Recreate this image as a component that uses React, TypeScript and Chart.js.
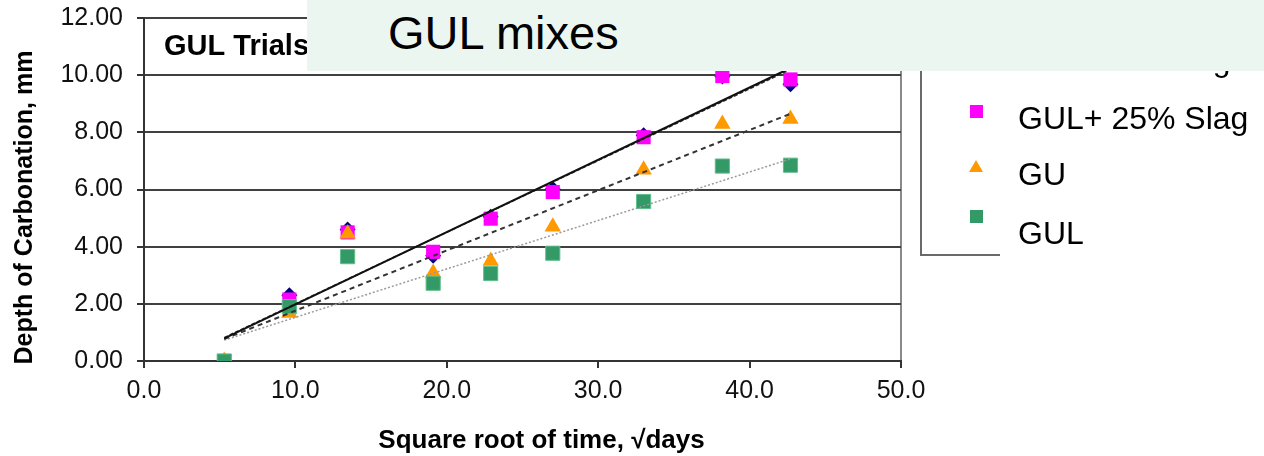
import React, { useEffect, useRef } from "react";
import { Chart, registerables } from "chart.js";

Chart.register(...registerables);

// ---- data ----
const xValues = [5.3, 9.6, 13.45, 19.1, 22.9, 27.0, 33.0, 38.2, 42.7];
const guSlag = [0, 2.3, 4.6, 3.68, 5.05, 6.02, 7.9, 9.95, 9.68];
const gulSlag = [0, 2.15, 4.5, 3.82, 4.98, 5.91, 7.83, 9.97, 9.85];
const gu = [0, 1.68, 4.45, 3.08, 3.5, 4.7, 6.69, 8.29, 8.47];
const gul = [0, 1.9, 3.65, 2.72, 3.06, 3.77, 5.58, 6.82, 6.85];

const trendX = [5.3, 42.7];
const guSlagTrend = [0.79, 10.25];
const gulSlagTrend = [0.82, 10.2];
const guTrend = [0.77, 8.65];
const gulTrend = [0.73, 7.07];

const seriesNames = ["GU+ 25% Slag", "GUL+ 25% Slag", "GU", "GUL"];
const xTitle = "Square root of time, \u221Adays";
const yTitle = "Depth of Carbonation, mm";
const chartTitle = "GUL Trials";
const slideTitle = "GUL mixes";

const FONT = '"Liberation Sans", Arial, sans-serif';

const pts = (xs: number[], ys: number[]) => xs.map((x, i) => ({ x, y: ys[i] }));

const titlePlugin = {
  id: "axisTitles",
  afterDraw(chart: any) {
    const ctx = chart.ctx as CanvasRenderingContext2D;
    const a = chart.chartArea;
    ctx.save();
    ctx.fillStyle = "#000";
    // y title
    ctx.font = `bold 25px ${FONT}`;
    ctx.textAlign = "center";
    ctx.textBaseline = "alphabetic";
    ctx.save();
    ctx.translate(32, (a.top + a.bottom) / 2 + 18);
    ctx.rotate(-Math.PI / 2);
    ctx.fillText(yTitle, 0, 0);
    ctx.restore();
    // x title
    ctx.font = `bold 26px ${FONT}`;
    ctx.fillText(xTitle, (a.left + a.right) / 2 + 19, 448);
    // chart title inside plot
    ctx.font = `bold 29px ${FONT}`;
    ctx.textAlign = "left";
    ctx.fillText(chartTitle, a.left + 20, 55);
    ctx.restore();
  },
};

export default function App() {
  const ref = useRef<HTMLCanvasElement>(null);

  useEffect(() => {
    const canvas = ref.current;
    if (!canvas) return;
    const trend = (label: string, ys: number[], dash: number[], color: string, width: number) => ({
      type: "line" as const,
      label,
      data: pts(trendX, ys),
      showLine: true,
      borderColor: color,
      borderWidth: width,
      borderDash: dash,
      pointRadius: 0,
      fill: false,
      order: 0,
    });
    const chart = new Chart(canvas, {
      type: "scatter",
      data: {
        datasets: [
          trend("GU+ 25% Slag trend", guSlagTrend, [], "#111", 2),
          trend("GUL+ 25% Slag trend", gulSlagTrend, [4, 2], "#333", 1.5),
          trend("GU trend", guTrend, [5, 4], "#333", 2),
          trend("GUL trend", gulTrend, [2, 2], "#9a9a9a", 1.5),
          {
            label: seriesNames[3],
            data: pts(xValues, gul),
            pointStyle: "rect",
            pointRadius: 10,
            backgroundColor: "#339966",
            borderColor: "#5fbf8a",
            borderWidth: 1,
            order: 1,
          },
          {
            label: seriesNames[2],
            data: pts(xValues, gu),
            pointStyle: "triangle",
            pointRadius: 9.5,
            backgroundColor: "#FF9900",
            borderColor: "#FF9900",
            borderWidth: 0,
            order: 2,
          },
          {
            label: seriesNames[1],
            data: pts(xValues, gulSlag),
            pointStyle: "rect",
            pointRadius: 10,
            backgroundColor: "#FF00FF",
            borderColor: "#FF00FF",
            borderWidth: 0,
            order: 3,
          },
          {
            label: seriesNames[0],
            data: pts(xValues, guSlag),
            pointStyle: "rectRot",
            pointRadius: 8,
            backgroundColor: "#000080",
            borderColor: "#000080",
            borderWidth: 0,
            order: 4,
          },
        ] as any,
      },
      options: {
        responsive: false,
        animation: false,
        devicePixelRatio: 1,
        layout: { padding: { left: 0, right: 363, top: 18, bottom: 0 } },
        plugins: {
          legend: { display: false },
          tooltip: { enabled: false },
          title: { display: false },
        },
        scales: {
          x: {
            type: "linear",
            min: 0,
            max: 50,
            ticks: {
              stepSize: 10,
              callback: (v: any) => Number(v).toFixed(1),
              color: "#111",
              font: { family: FONT, size: 25 },
              padding: 8,
            },
            grid: {
              drawOnChartArea: true,
              color: (c: any) => (c.tick && c.tick.value === 50 ? "#8a8a8a" : "rgba(0,0,0,0)"),
              lineWidth: 2,
              tickColor: "#333",
              tickLength: 7,
            },
            border: { display: true, color: "#333", width: 2 },
            afterFit: (s: any) => {
              s.height = 95;
              s.paddingLeft = 0;
              s.paddingRight = 0;
            },
          } as any,
          y: {
            min: 0,
            max: 12,
            ticks: {
              stepSize: 2,
              callback: (v: any) => Number(v).toFixed(2),
              color: "#111",
              font: { family: FONT, size: 25 },
              padding: 14,
            },
            grid: {
              color: "#404040",
              lineWidth: 2,
              tickColor: "#333",
              tickLength: 7,
            },
            border: { display: true, color: "#333", width: 2 },
            afterFit: (s: any) => {
              s.width = 144;
              s.paddingTop = 0;
              s.paddingBottom = 0;
            },
          } as any,
        },
      },
      plugins: [titlePlugin],
    });
    return () => chart.destroy();
  }, []);

  const textTop = (center: number) => center - 15.6;
  const legendText = (label: string, center: number) => (
    <div
      key={label}
      style={{
        position: "absolute",
        left: 1018,
        top: textTop(center),
        font: `32px/32px ${FONT}`,
        color: "#000",
        whiteSpace: "nowrap",
      }}
    >
      {label}
    </div>
  );

  return (
    <div
      style={{
        position: "fixed",
        left: 0,
        top: 0,
        width: 1264,
        height: 456,
        background: "#fff",
        overflow: "hidden",
        fontFamily: FONT,
      }}
    >
      <canvas ref={ref} width={1264} height={456} style={{ position: "absolute", left: 0, top: 0, width: 1264, height: 456 }} />
      {/* legend */}
      <div
        style={{
          position: "absolute",
          left: 920,
          top: 30,
          width: 78,
          height: 224,
          borderLeft: "2px solid #6a6a6a",
          borderBottom: "2px solid #6a6a6a",
          background: "#fff",
        }}
      />
      <div style={{ position: "absolute", left: 971, top: 55, width: 10, height: 10, background: "#000080", transform: "rotate(45deg)" }} />
      <div style={{ position: "absolute", left: 969.5, top: 105, width: 13, height: 13, background: "#FF00FF" }} />
      <div
        style={{
          position: "absolute",
          left: 969,
          top: 159.5,
          width: 0,
          height: 0,
          borderLeft: "7px solid transparent",
          borderRight: "7px solid transparent",
          borderBottom: "12px solid #FF9900",
        }}
      />
      <div style={{ position: "absolute", left: 969.5, top: 209.5, width: 13, height: 13, background: "#339966" }} />
      {legendText(seriesNames[0], 60)}
      {legendText(seriesNames[1], 117.5)}
      {legendText(seriesNames[2], 174)}
      {legendText(seriesNames[3], 232.5)}
      {/* slide title overlay */}
      <div
        style={{
          position: "absolute",
          left: 307,
          top: 0,
          width: 957,
          height: 71,
          background: "#ECF6F0",
        }}
      >
        <div
          style={{
            position: "absolute",
            left: 81,
            top: 9,
            font: `47px/47px ${FONT}`,
            color: "#000",
            whiteSpace: "nowrap",
          }}
        >
          {slideTitle}
        </div>
      </div>
    </div>
  );
}
